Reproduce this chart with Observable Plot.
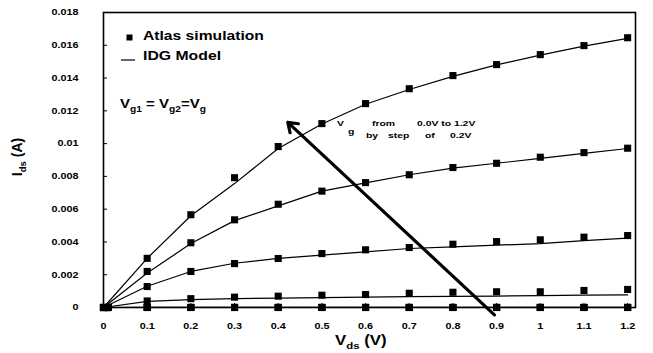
<!DOCTYPE html>
<html><head><meta charset="utf-8">
<script src="https://cdn.jsdelivr.net/npm/d3@7"></script>
<script src="https://cdn.jsdelivr.net/npm/@observablehq/plot@0.6"></script>
<style>
body{margin:0;background:#fff;}
svg{font-family:"Liberation Sans",Arial,sans-serif;}
</style>
</head><body><div id="chart"></div>
<script>
// ---- data ----
const vdsModel = [0, 0.1, 0.2, 0.3, 0.4, 0.5, 0.6, 0.7, 0.8, 0.9, 1.0, 1.1, 1.2];
const vdsSim = [0, 0.01, 0.1, 0.2, 0.3, 0.4, 0.5, 0.6, 0.7, 0.8, 0.9, 1.0, 1.1, 1.2];
const vgValues = [0, 0.2, 0.4, 0.6, 0.8, 1.0, 1.2];

const simVg00 = [0, 0, 0, 0, 0, 0, 0, 0, 0, 0, 0, 0, 0, 0];
const simVg02 = [0, 0, 0, 0, 0, 0, 0, 0, 0, 0, 0, 0, 0, 0];
const simVg04 = [0, 0, 0.00001, 0.00001, 0.00001, 0.00001, 0.00001, 0.00001, 0.00001, 0.00001, 0.00001, 0.00001, 0.00001, 0.00001];
const simVg06 = [0, 0, 0.0004, 0.00054, 0.00063, 0.00069, 0.00075, 0.00079, 0.00087, 0.00093, 0.00096, 0.00096, 0.00104, 0.0011];
const simVg08 = [0, 0, 0.00128, 0.0022, 0.00268, 0.00299, 0.00329, 0.00352, 0.00366, 0.00386, 0.00402, 0.00413, 0.00429, 0.00439];
const simVg10 = [0, 0, 0.0022, 0.00395, 0.00535, 0.0063, 0.0071, 0.00762, 0.0081, 0.00854, 0.0088, 0.00917, 0.00945, 0.00972];
const simVg12 = [0, 0, 0.0030, 0.00566, 0.00792, 0.00982, 0.01122, 0.01244, 0.01335, 0.01415, 0.01482, 0.01543, 0.01598, 0.01646];

const modelVg00 = [0, 0, 0, 0, 0, 0, 0, 0, 0, 0, 0, 0, 0];
const modelVg02 = [0, 0, 0, 0, 0, 0, 0, 0, 0, 0, 0, 0, 0];
const modelVg04 = [0, 0.00001, 0.00001, 0.00001, 0.00001, 0.00001, 0.00001, 0.00001, 0.00001, 0.00001, 0.00001, 0.00001, 0.00001];
const modelVg06 = [0, 0.00037, 0.00048, 0.00054, 0.00057, 0.0006, 0.00063, 0.00066, 0.00068, 0.0007, 0.00072, 0.00075, 0.00077];
const modelVg08 = [0, 0.0013, 0.0022, 0.0027, 0.003, 0.0032, 0.0034, 0.0036, 0.0037, 0.0038, 0.0039, 0.00408, 0.00423];
const modelVg10 = [0, 0.0021, 0.0039, 0.0053, 0.0062, 0.0071, 0.0076, 0.0081, 0.0085, 0.0088, 0.0091, 0.0094, 0.0097];
const modelVg12 = [0, 0.003, 0.0056, 0.00756, 0.0097, 0.0112, 0.0124, 0.0133, 0.0141, 0.0148, 0.0154, 0.01595, 0.01642];

const xTicks = [0, 0.1, 0.2, 0.3, 0.4, 0.5, 0.6, 0.7, 0.8, 0.9, 1, 1.1, 1.2];
const xTickLabels = ["0", "0.1", "0.2", "0.3", "0.4", "0.5", "0.6", "0.7", "0.8", "0.9", "1", "1.1", "1.2"];
const yTicks = [0, 0.002, 0.004, 0.006, 0.008, 0.01, 0.012, 0.014, 0.016, 0.018];
const yTickLabels = ["0", "0.002", "0.004", "0.006", "0.008", "0.01", "0.012", "0.014", "0.016", "0.018"];

const arrowData = [{x1: 0.895, y1: -0.00045, x2: 0.422, y2: 0.0113}];

// ---- tables ----
const simSeries = [simVg00, simVg02, simVg04, simVg06, simVg08, simVg10, simVg12];
const modelSeries = [modelVg00, modelVg02, modelVg04, modelVg06, modelVg08, modelVg10, modelVg12];
const sim = vgValues.flatMap((vg, k) => simSeries[k].map((v, i) => ({vg, vds: vdsSim[i], ids: v})));
const model = vgValues.flatMap((vg, k) => modelSeries[k].map((v, i) => ({vg, vds: vdsModel[i], ids: v})));

const plot = Plot.plot({
  width: 653, height: 353,
  marginLeft: 103, marginRight: 18, marginTop: 12, marginBottom: 46,
  style: {background: "white", fontFamily: "'Liberation Sans', Arial, sans-serif", color: "black"},
  x: {domain: [0, 1.218]},
  y: {domain: [0, 0.018]},
  marks: [
    Plot.line(model, {x: "vds", y: "ids", z: "vg", stroke: "black", strokeWidth: 1.2}),
    Plot.dot(sim, {x: "vds", y: "ids", symbol: "square", r: 4, fill: "black", stroke: "none"}),
    Plot.frame({stroke: "black", strokeWidth: 1.6}),
    Plot.arrow(arrowData, {x1: "x1", y1: "y1", x2: "x2", y2: "y2", stroke: "black", strokeWidth: 3.2, headLength: 5, headAngle: 70}),
    Plot.axisX({ticks: xTicks, tickFormat: d => xTickLabels[xTicks.indexOf(d)], tickSize: -4, tickPadding: 18.7, fontSize: 9, fontWeight: "bold", label: null}),
    Plot.axisY({ticks: yTicks, tickFormat: d => yTickLabels[yTicks.indexOf(d)], tickSize: -4, tickPadding: 29, fontSize: 9, fontWeight: "bold", label: null})
  ]
});

// stretch tick labels horizontally like the reference
d3.select(plot).selectAll("g[aria-label='x-axis tick label'] text, g[aria-label='y-axis tick label'] text")
  .attr("transform", function() { return (this.getAttribute("transform") || "") + " scale(1.2,1)"; });

document.getElementById("chart").appendChild(plot);

const svg = d3.select(plot);
function addText(x, y, parts, size, sx, opts = {}) {
  const t = svg.append("text")
    .attr("transform", `translate(${x},${y})${opts.rotate ? ` rotate(${opts.rotate})` : ""} scale(${sx},1)`)
    .attr("font-size", size).attr("font-weight", "bold").attr("fill", "black")
    .attr("text-anchor", opts.anchor || "start");
  parts.forEach(p => {
    const s = t.append("tspan").text(p.t);
    if (p.sub) s.attr("font-size", size * 0.68).attr("dy", size * 0.32);
    if (p.up) s.attr("dy", -size * 0.32);
  });
  return t;
}

// legend
svg.append("rect").attr("x", 126.5).attr("y", 34.5).attr("width", 6).attr("height", 6).attr("fill", "black");
addText(143, 40, [{t: "Atlas simulation"}], 13.5, 1.16);
svg.append("line").attr("x1", 121).attr("x2", 135).attr("y1", 60).attr("y2", 60).attr("stroke", "black").attr("stroke-width", 1.2);
addText(143, 60, [{t: "IDG Model"}], 13.5, 1.17);

// V_g1 = V_g2 = V_g
addText(120, 108, [{t: "V"}, {t: "g1", sub: true}, {t: " = V", up: true}, {t: "g2", sub: true}, {t: "=V", up: true}, {t: "g", sub: true}], 12, 1.25);

// Vg sweep note
const ns = 8, nsx = 1.3;
addText(337, 126, [{t: "V"}], ns, nsx);
addText(348, 134, [{t: "g"}], ns, nsx);
addText(372, 126, [{t: "from"}], ns, nsx);
addText(417, 126, [{t: "0.0V to 1.2V"}], ns, nsx);
addText(366, 137.5, [{t: "by"}], ns, nsx);
addText(388, 137.5, [{t: "step"}], ns, nsx);
addText(425, 137.5, [{t: "of"}], ns, nsx);
addText(450, 137.5, [{t: "0.2V"}], ns, nsx);

// axis labels
addText(335, 345, [{t: "V"}, {t: "ds", sub: true}, {t: " (V)", up: true}], 14, 1.2);
addText(22, 157, [{t: "I"}, {t: "ds", sub: true}, {t: " (A)", up: true}], 14, 1.0, {rotate: -90, anchor: "middle"});
</script>
</body></html>
